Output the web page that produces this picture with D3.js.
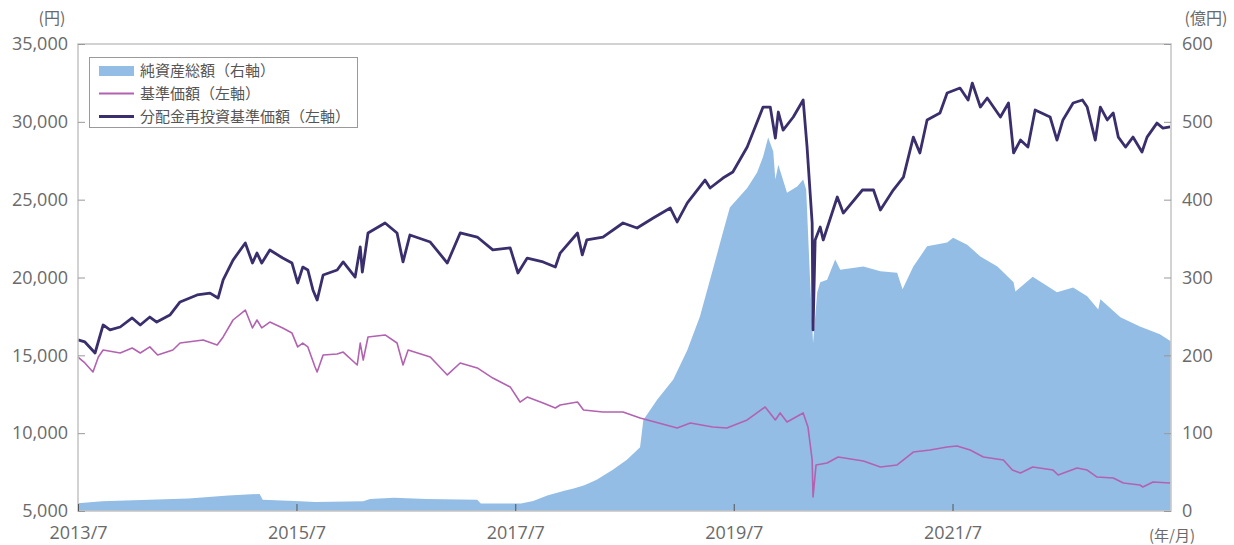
<!DOCTYPE html>
<html><head><meta charset="utf-8">
<script src="https://cdn.jsdelivr.net/npm/d3@7/dist/d3.min.js"></script>
<style>
html,body{margin:0;padding:0;background:#fff;}
svg{display:block;}
</style></head>
<body>
<svg id="chart" width="1234" height="545"></svg>
<script>
// ---- Data ----
const legendLabels = ["純資産総額（右軸）", "基準価額（左軸）", "分配金再投資基準価額（左軸）"];
const xTickDates = ["2013-07-01","2015-07-01","2017-07-01","2019-07-01","2021-07-01"];
const xTickLabels = ["2013/7","2015/7","2017/7","2019/7","2021/7"];
const leftTicks = [5000,10000,15000,20000,25000,30000,35000];
const rightTicks = [0,100,200,300,400,500,600];

// 分配金再投資基準価額 (円)
const reinvDates = ["2013-07-01","2013-07-24","2013-08-27","2013-09-23","2013-10-16","2013-11-19","2013-12-29","2014-01-25","2014-02-26","2014-03-21","2014-05-04","2014-06-07","2014-08-03","2014-09-15","2014-10-12","2014-10-29","2014-12-01","2015-01-11","2015-02-04","2015-02-19","2015-03-07","2015-04-03","2015-05-16","2015-06-16","2015-07-05","2015-07-22","2015-08-08","2015-08-25","2015-09-08","2015-09-28","2015-11-14","2015-12-04","2016-01-13","2016-01-30","2016-02-06","2016-02-25","2016-04-22","2016-06-01","2016-06-21","2016-07-14","2016-09-20","2016-11-16","2016-12-29","2017-02-24","2017-04-17","2017-06-14","2017-07-10","2017-08-10","2017-10-02","2017-11-12","2017-11-28","2018-01-25","2018-02-10","2018-02-25","2018-04-20","2018-06-26","2018-08-12","2018-10-05","2018-12-01","2018-12-24","2019-01-27","2019-03-27","2019-04-13","2019-05-26","2019-06-28","2019-08-15","2019-10-07","2019-10-31","2019-11-17","2019-11-27","2019-12-13","2020-01-16","2020-02-18","2020-03-02","2020-03-19","2020-03-22","2020-03-29","2020-04-15","2020-04-25","2020-06-11","2020-07-01","2020-09-03","2020-10-10","2020-11-02","2020-12-15","2021-01-18","2021-02-20","2021-03-14","2021-04-07","2021-05-20","2021-06-13","2021-07-26","2021-08-22","2021-09-05","2021-10-02","2021-10-25","2021-12-08","2022-01-04","2022-01-21","2022-02-13","2022-03-10","2022-04-03","2022-05-23","2022-06-15","2022-07-05","2022-08-08","2022-09-08","2022-09-24","2022-10-21","2022-11-07","2022-11-30","2022-12-20","2023-01-06","2023-01-30","2023-02-24","2023-03-26","2023-04-12","2023-05-15","2023-06-04","2023-06-28"];
const reinvValues = [15990,15860,15150,16950,16630,16820,17400,16950,17460,17140,17590,18430,18880,19000,18680,19840,21120,22220,20930,21570,20930,21770,21250,20930,19650,20670,20480,19200,18550,20160,20480,21000,20030,21960,20350,22860,23500,22860,21000,22730,22280,20930,22860,22600,21770,21900,20290,21250,21000,20670,21570,22860,21450,22410,22600,23500,23180,23820,24460,23570,24790,26260,25750,26390,26780,28380,30950,30950,28960,30630,29470,30310,31400,28380,23500,16630,22410,23240,22410,25170,24140,25620,25620,24340,25620,26450,29020,28000,30120,30570,31850,32170,31400,32490,30950,31530,30310,31210,28000,28830,28380,30760,30310,28830,30120,31210,31400,30950,28830,30950,30120,30570,29020,28380,29020,28060,29020,29920,29600,29670];

// 基準価額 (円)
const navDates = ["2013-07-01","2013-07-24","2013-08-20","2013-09-07","2013-09-23","2013-11-19","2013-12-29","2014-01-25","2014-02-26","2014-03-24","2014-05-14","2014-06-07","2014-08-23","2014-10-09","2014-10-29","2014-12-01","2015-01-11","2015-02-04","2015-02-19","2015-03-07","2015-04-03","2015-05-16","2015-06-16","2015-07-05","2015-07-22","2015-08-08","2015-09-01","2015-09-08","2015-09-28","2015-11-14","2015-12-04","2016-01-20","2016-01-30","2016-02-09","2016-02-25","2016-04-22","2016-06-01","2016-06-21","2016-07-08","2016-09-20","2016-11-16","2016-12-29","2017-02-24","2017-04-17","2017-06-14","2017-07-17","2017-08-10","2017-10-02","2017-11-12","2017-11-28","2018-01-25","2018-02-14","2018-04-20","2018-06-26","2018-08-22","2018-12-24","2019-02-06","2019-04-22","2019-06-08","2019-08-15","2019-10-14","2019-11-17","2019-12-03","2019-12-26","2020-02-18","2020-03-05","2020-03-19","2020-03-22","2020-04-01","2020-05-08","2020-06-14","2020-09-06","2020-11-02","2020-12-28","2021-02-20","2021-04-17","2021-06-13","2021-07-16","2021-08-29","2021-10-12","2021-12-18","2022-01-17","2022-02-13","2022-03-26","2022-06-02","2022-06-19","2022-08-21","2022-09-24","2022-10-27","2022-12-20","2023-01-23","2023-03-19","2023-03-29","2023-05-02","2023-06-28"];
const navValues = [14890,14510,13930,14890,15340,15150,15470,15150,15540,15020,15340,15790,15990,15660,16180,17270,17910,16760,17270,16760,17140,16760,16430,15540,15790,15540,14250,13930,15020,15090,15210,14380,15790,14700,16180,16310,15790,14380,15340,14890,13740,14510,14190,13540,12970,12000,12320,11940,11620,11810,12000,11490,11360,11360,10970,10330,10650,10400,10330,10850,11680,10850,11300,10720,11300,10400,8280,5900,7960,8080,8470,8210,7830,7960,8790,8920,9110,9180,8920,8470,8280,7630,7440,7830,7630,7310,7760,7630,7180,7120,6800,6670,6540,6860,6800];

// 純資産総額 (億円)
const assetDates = ["2013-07-01","2013-09-20","2014-02-24","2014-07-06","2014-11-15","2015-02-28","2015-03-10","2015-06-25","2015-09-01","2016-02-09","2016-03-03","2016-05-22","2016-09-07","2017-02-24","2017-03-08","2017-07-20","2017-08-30","2017-10-16","2017-12-12","2018-01-12","2018-02-17","2018-03-30","2018-05-23","2018-07-09","2018-08-22","2018-09-02","2018-10-18","2018-12-11","2019-01-27","2019-03-10","2019-04-22","2019-05-26","2019-06-18","2019-08-15","2019-09-17","2019-10-07","2019-10-24","2019-11-10","2019-11-17","2019-11-27","2019-12-26","2020-01-29","2020-02-18","2020-02-28","2020-03-12","2020-03-22","2020-04-05","2020-04-15","2020-05-08","2020-06-04","2020-06-21","2020-09-06","2020-11-02","2020-12-28","2021-01-15","2021-02-20","2021-04-07","2021-06-13","2021-07-03","2021-08-19","2021-10-02","2021-11-28","2022-01-21","2022-01-27","2022-03-26","2022-06-15","2022-08-08","2022-09-24","2022-10-31","2022-11-07","2023-01-13","2023-03-19","2023-05-25","2023-06-30"];
const assetValues = [10,12.5,14.5,16,20,22,14.5,13,11.5,12.5,15.5,17,15.5,14.5,9.5,9.5,13,20,26,29,33,40,53,66,82,117,143,169,207,250,310,358,390,415,435,455,480,462,426,445,409,417,426,413,297,216,281,294,297,323,310,314,308,306,285,314,340,345,351,342,327,314,294,282,301,281,287,276,259,272,249,237,227,218];

// ---- Layout ----
const m = {left: 78, right: 1171, top: 44, bottom: 511};
const parse = d3.timeParse("%Y-%m-%d");
const svg = d3.select("#chart");

const x = d3.scaleTime().domain([parse("2013-07-01"), parse("2023-07-01")]).range([m.left, m.right]);
const yL = d3.scaleLinear().domain([5000, 35000]).range([m.bottom, m.top]);
const yR = d3.scaleLinear().domain([0, 600]).range([m.bottom, m.top]);

const reinv = reinvDates.map((d,i) => ({d: parse(d), v: reinvValues[i]}));
const nav = navDates.map((d,i) => ({d: parse(d), v: navValues[i]}));
const asset = assetDates.map((d,i) => ({d: parse(d), v: assetValues[i]}));

const cArea = "#93bde5", cNav = "#b262b0", cReinv = "#3a2e6d";
const textCol = "#6a6a6a";
const numFont = "'Open Sans', 'Noto Sans', sans-serif";
const jpFont = "'Noto Sans CJK JP', 'Open Sans', sans-serif";

// area
svg.append("path").datum(asset)
  .attr("fill", cArea)
  .attr("d", d3.area().x(p => x(p.d)).y0(yR(0)).y1(p => yR(p.v)));

// lines
svg.append("path").datum(nav)
  .attr("fill", "none").attr("stroke", cNav).attr("stroke-width", 1.6).attr("stroke-linejoin", "round")
  .attr("d", d3.line().x(p => x(p.d)).y(p => yL(p.v)));
svg.append("path").datum(reinv)
  .attr("fill", "none").attr("stroke", cReinv).attr("stroke-width", 2.8).attr("stroke-linejoin", "round")
  .attr("d", d3.line().x(p => x(p.d)).y(p => yL(p.v)));

// frame
svg.append("rect").attr("x", m.left).attr("y", m.top)
  .attr("width", m.right - m.left).attr("height", m.bottom - m.top)
  .attr("fill", "none").attr("stroke", "#c4c4c4").attr("stroke-width", 1.5);

// axes
function styleAxis(g, tickCol) {
  g.select(".domain").remove();
  g.selectAll(".tick line").attr("stroke", tickCol).attr("stroke-width", 1);
  g.selectAll(".tick text").attr("fill", textCol).style("font-family", numFont).style("font-size", "18px");
}
const gL = svg.append("g").attr("transform", `translate(${m.left},0)`)
  .call(d3.axisLeft(yL).tickValues(leftTicks).tickFormat(d3.format(",")).tickSizeInner(-7).tickSizeOuter(0).tickPadding(10));
styleAxis(gL, "#999");
const gR = svg.append("g").attr("transform", `translate(${m.right},0)`)
  .call(d3.axisRight(yR).tickValues(rightTicks).tickFormat(d3.format("d")).tickSizeInner(-7).tickSizeOuter(0).tickPadding(11));
styleAxis(gR, "#999");
const gB = svg.append("g").attr("transform", `translate(0,${m.bottom})`)
  .call(d3.axisBottom(x).tickValues(xTickDates.map(parse)).tickFormat((d,i) => xTickLabels[i]).tickSizeInner(-7).tickSizeOuter(0).tickPadding(15));
styleAxis(gB, "#555");

// unit labels
svg.append("text").attr("x", 52).attr("y", 24).attr("text-anchor", "middle")
  .attr("fill", textCol).style("font-family", jpFont).style("font-size", "16px").text("(円)");
svg.append("text").attr("x", 1206).attr("y", 24).attr("text-anchor", "middle")
  .attr("fill", textCol).style("font-family", jpFont).style("font-size", "16px").text("(億円)");
svg.append("text").attr("x", 1172).attr("y", 541).attr("text-anchor", "middle")
  .attr("fill", textCol).style("font-family", jpFont).style("font-size", "15px").text("(年/月)");

// legend
const lg = svg.append("g");
lg.append("rect").attr("x", 89.5).attr("y", 57.5).attr("width", 268).attr("height", 70)
  .attr("fill", "#fff").attr("stroke", "#9a9a9a").attr("stroke-width", 1);
const rowY = [71, 93.5, 116.5];
lg.append("rect").attr("x", 99).attr("y", rowY[0] - 5).attr("width", 35).attr("height", 10).attr("fill", cArea);
lg.append("line").attr("x1", 99).attr("x2", 134).attr("y1", rowY[1]).attr("y2", rowY[1]).attr("stroke", cNav).attr("stroke-width", 2);
lg.append("line").attr("x1", 99).attr("x2", 134).attr("y1", rowY[2]).attr("y2", rowY[2]).attr("stroke", cReinv).attr("stroke-width", 3);
legendLabels.forEach((t,i) => {
  lg.append("text").attr("x", 140).attr("y", rowY[i]).attr("dy", "0.36em")
    .attr("fill", "#555").style("font-family", jpFont).style("font-size", "15px").text(t);
});
</script>
</body></html>
